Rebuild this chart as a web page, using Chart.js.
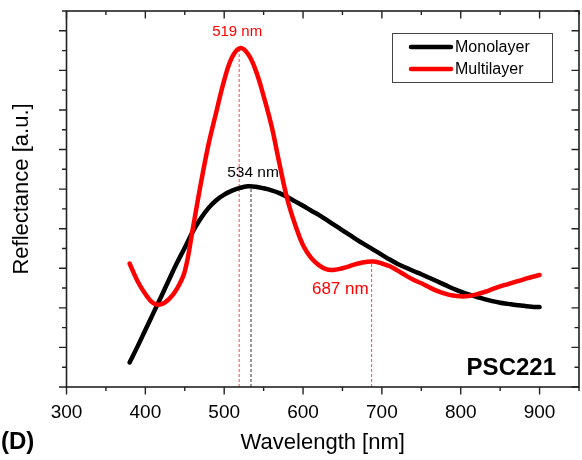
<!DOCTYPE html>
<html>
<head>
<meta charset="utf-8">
<script src="https://cdn.jsdelivr.net/npm/chart.js@4.4.1/dist/chart.umd.min.js"></script>
<style>
  html, body { margin: 0; padding: 0; background: #fff; }
  #wrap { width: 582px; height: 460px; }
</style>
</head>
<body>
<div id="wrap"><canvas id="chart" width="582" height="460"></canvas></div>
<script>
const WAVELENGTHS = [
  380, 390, 400, 410, 420, 430, 440, 450, 460, 470,
  480, 490, 500, 510, 520, 530, 540, 550, 560, 570,
  580, 590, 600, 610, 620, 630, 640, 650, 660, 670,
  680, 690, 700, 710, 720, 730, 740, 750, 760, 770,
  780, 790, 800, 810, 820, 830, 840, 850, 860, 870,
  880, 890, 900,
];

const MONOLAYER = [
  0.62, 1.02, 1.44, 1.86, 2.28, 2.71, 3.13, 3.52, 3.92, 4.25,
  4.52, 4.72, 4.86, 4.96, 5.03, 5.07, 5.06, 5.02, 4.97, 4.90,
  4.80, 4.69, 4.58, 4.46, 4.35, 4.22, 4.09, 3.96, 3.83, 3.70,
  3.58, 3.46, 3.34, 3.22, 3.11, 3.02, 2.93, 2.85, 2.76, 2.67,
  2.58, 2.49, 2.41, 2.34, 2.28, 2.22, 2.17, 2.13, 2.10, 2.07,
  2.05, 2.03, 2.02,
];

const MULTILAYER = [
  3.12, 2.68, 2.35, 2.12, 2.09, 2.22, 2.48, 2.92, 3.98, 5.10,
  6.12, 6.95, 7.75, 8.33, 8.56, 8.42, 8.00, 7.35, 6.60, 5.65,
  4.75, 4.10, 3.58, 3.27, 3.08, 2.97, 2.96, 3.00, 3.06, 3.12,
  3.16, 3.17, 3.12, 3.05, 2.94, 2.82, 2.71, 2.62, 2.52, 2.43,
  2.36, 2.31, 2.29, 2.30, 2.34, 2.40, 2.47, 2.54, 2.60, 2.66,
  2.72, 2.78, 2.83,
];

// marked peaks: wavelength, curve height there, label colour
const PEAK_WL = [519, 534, 687];
const PEAK_VALUE = [8.56, 5.07, 3.17];
const PEAK_COLOR = ['#ff0000', '#000000', '#ff0000'];
const PEAK_LABELS = ['519 nm', '534 nm', '687 nm'];

const SERIES_LABELS = ['Monolayer', 'Multilayer'];
const SERIES_COLORS = ['#000000', '#ff0000'];

const FONT = "'Liberation Sans', Arial, sans-serif";

const curve = (values) => WAVELENGTHS.map((x, i) => ({ x, y: values[i] }));

const peakDatasets = PEAK_WL.map((wl, i) => ({
  label: 'peak ' + PEAK_LABELS[i],
  data: [{ x: wl, y: 0 }, { x: wl, y: PEAK_VALUE[i] }],
  borderColor: PEAK_COLOR[i] === '#000000' ? '#333' : 'rgb(255,70,70)',
  borderWidth: 1,
  borderDash: [3, 2],
  pointRadius: 0,
  tension: 0,
  order: 5,
}));

// frame with Origin-style ticks: outward on bottom/left, inward on top/right
const frameTicks = {
  id: 'frameTicks',
  afterDraw(chart) {
    const { ctx, chartArea: a, scales } = chart;
    const x = scales.x, y = scales.y;
    ctx.save();
    ctx.strokeStyle = '#222';
    ctx.lineWidth = 1.6;
    ctx.strokeRect(a.left, a.top, a.right - a.left, a.bottom - a.top);
    ctx.lineWidth = 1.4;
    ctx.beginPath();
    for (const t of x.ticks) {
      const px = x.getPixelForValue(t.value);
      const len = t.value % 100 === 0 ? 7.5 : 4;
      ctx.moveTo(px, a.bottom); ctx.lineTo(px, a.bottom + len);
      ctx.moveTo(px, a.top); ctx.lineTo(px, a.top + len);
    }
    for (const t of y.ticks) {
      const py = y.getPixelForValue(t.value);
      const len = Math.abs(t.value % 1) < 1e-6 ? 7.5 : 4.5;
      ctx.moveTo(a.left, py); ctx.lineTo(a.left - len, py);
      ctx.moveTo(a.right, py); ctx.lineTo(a.right - len, py);
    }
    ctx.stroke();
    ctx.restore();
  },
};

const annotations = {
  id: 'annotations',
  afterDatasetsDraw(chart) {
    const { ctx, chartArea: a, scales } = chart;
    const x = scales.x, y = scales.y;
    ctx.save();
    ctx.textBaseline = 'middle';

    // peak labels
    const labelStyle = [[-2, -16, 'center', 15], [2, -14, 'center', 15.5], [-3, 28, 'right', 17]];
    PEAK_WL.forEach((wl, i) => {
      const [dx, dy, align, size] = labelStyle[i];
      ctx.font = size + 'px ' + FONT;
      ctx.fillStyle = PEAK_COLOR[i];
      ctx.textAlign = align;
      ctx.fillText(PEAK_LABELS[i], x.getPixelForValue(wl) + dx, y.getPixelForValue(PEAK_VALUE[i]) + dy);
    });

    // legend box
    const bx = a.right - 187, by = a.top + 22, bw = 160, bh = 49;
    ctx.strokeStyle = '#444';
    ctx.lineWidth = 1;
    ctx.strokeRect(bx + 0.5, by + 0.5, bw, bh);
    ctx.font = '16px ' + FONT;
    ctx.textAlign = 'left';
    ctx.lineCap = 'round';
    SERIES_LABELS.forEach((label, i) => {
      const ly = by + 14 + i * 22;
      ctx.strokeStyle = SERIES_COLORS[i];
      ctx.lineWidth = 4.5;
      ctx.beginPath();
      ctx.moveTo(bx + 19, ly); ctx.lineTo(bx + 59, ly);
      ctx.stroke();
      ctx.fillStyle = '#000';
      ctx.fillText(label, bx + 63, ly + 1);
    });

    // y axis title, sample name and panel letter
    ctx.fillStyle = '#000';
    ctx.save();
    ctx.translate(21.5, (a.top + a.bottom) / 2 - 10);
    ctx.rotate(-Math.PI / 2);
    ctx.textAlign = 'center';
    ctx.font = '22px ' + FONT;
    ctx.fillText('Reflectance [a.u.]', 0, 0);
    ctx.restore();

    ctx.font = 'bold 24px ' + FONT;
    ctx.textAlign = 'right';
    ctx.textBaseline = 'alphabetic';
    ctx.fillText('PSC221', a.right - 23, a.bottom - 12);
    ctx.textAlign = 'left';
    ctx.fillText('(D)', 1, 449);
    ctx.restore();
  },
};

new Chart(document.getElementById('chart'), {
  type: 'line',
  data: {
    datasets: [
      {
        label: SERIES_LABELS[0],
        data: curve(MONOLAYER),
        borderColor: SERIES_COLORS[0],
        borderWidth: 4.5,
        pointRadius: 0,
        tension: 0.4,
        borderCapStyle: 'round',
        order: 2,
      },
      {
        label: SERIES_LABELS[1],
        data: curve(MULTILAYER),
        borderColor: SERIES_COLORS[1],
        borderWidth: 4.5,
        pointRadius: 0,
        tension: 0.4,
        borderCapStyle: 'round',
        order: 1,
      },
      ...peakDatasets,
    ],
  },
  options: {
    responsive: false,
    animation: false,
    events: [],
    layout: { padding: { left: 0, right: 3, top: 11, bottom: 0 } },
    plugins: { legend: { display: false }, tooltip: { enabled: false } },
    scales: {
      x: {
        type: 'linear',
        min: 300,
        max: 950,
        afterFit: (s) => { s.height = 73; s.paddingLeft = 0; s.paddingRight = 0; },
        grid: { display: false },
        border: { display: false },
        ticks: {
          stepSize: 50,
          autoSkip: false,
          maxRotation: 0,
          padding: 6,
          color: '#000',
          font: { family: FONT, size: 19 },
          callback: (v) => (v % 100 === 0 && v < 950 ? String(v) : ''),
        },
        title: {
          display: true,
          text: 'Wavelength [nm]',
          color: '#000',
          font: { family: FONT, size: 22 },
          padding: { top: 0, bottom: 4 },
        },
      },
      y: {
        type: 'linear',
        min: 0,
        max: 9.5,
        afterFit: (s) => { s.width = 66.5; s.paddingTop = 0; s.paddingBottom = 0; },
        grid: { display: false },
        border: { display: false },
        ticks: { stepSize: 0.5, display: false },
        title: { display: false },
      },
    },
  },
  plugins: [frameTicks, annotations],
});
</script>
</body>
</html>
